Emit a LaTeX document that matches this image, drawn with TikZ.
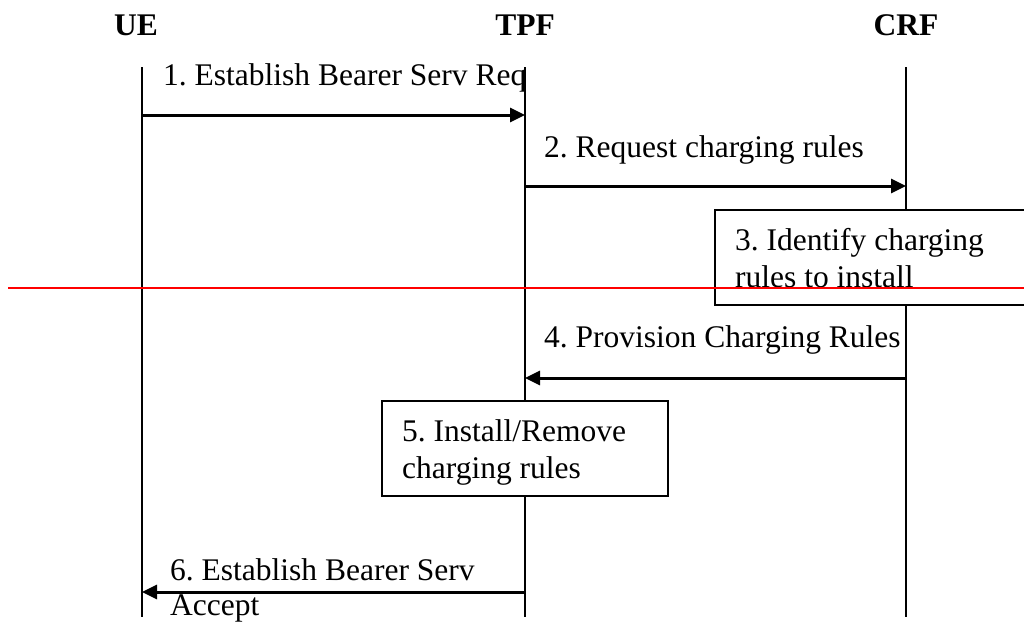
\documentclass[tikz,border=0pt]{standalone}
\usepackage{fontspec}
\setmainfont{Liberation Serif}
\frenchspacing
\usetikzlibrary{arrows.meta}
\begin{document}
\begin{tikzpicture}[x=1pt,y=-1pt,
  lbl/.style={anchor=base west,inner sep=0pt,font=\fontsize{31.5}{36}\selectfont},
  hdr/.style={anchor=base,inner sep=0pt,font=\fontsize{31.5}{36}\selectfont\bfseries},
  life/.style={line width=1.4pt},
  msg/.style={line width=3pt,-{Triangle[length=15pt,width=14pt]}},
  actbox/.style={draw,fill=white,line width=1.4pt}]
\clip (0,0) rectangle (1024,627);
\fill[white] (0,0) rectangle (1024,627);
% headers
\node[hdr] (hue) at (136,35) {UE};
\node[hdr] (htpf) at (525,35) {TPF};
\node[hdr] (hcrf) at (906,35) {CRF};
% lifelines
\coordinate (ueT) at (142,67);  \coordinate (ueB) at (142,617);
\coordinate (tpT) at (525,67);  \coordinate (tpB) at (525,617);
\coordinate (crT) at (906,67);  \coordinate (crB) at (906,617);
\draw[life] (ueT) -- (ueB);
\draw[life] (tpT) -- (tpB);
\draw[life] (crT) -- (crB);
% message points
\coordinate (ue1) at (142,115); \coordinate (tp1) at (525,115);
\coordinate (tp2) at (525,186); \coordinate (cr2) at (906,186);
\coordinate (cr4) at (906,378); \coordinate (tp4) at (525,378);
\coordinate (tp6) at (525,592); \coordinate (ue6) at (142,592);
\draw[msg] (ue1) -- (tp1);
\draw[msg] (tp2) -- (cr2);
\draw[msg] (cr4) -- (tp4);
\draw[msg] (tp6) -- (ue6);
% labels
\node[lbl] (l1) at (163,85) {1. Establish Bearer Serv Req};
\node[lbl] (l2) at (544,157) {2. Request charging rules};
\node[lbl] (l4) at (544,347) {4. Provision Charging Rules};
\node[lbl] (l6a) at (170,580) {6. Establish Bearer Serv};
\node[lbl] (l6b) at (170,615) {Accept};
% boxes
\path[actbox] (715,210) rectangle (1040,305);
\node[lbl] (b3a) at (735,250) {3. Identify charging};
\node[lbl] (b3b) at (735,287) {rules to install};
\path[actbox] (382,401) rectangle (668,496);
\node[lbl] (b5a) at (402,441) {5. Install/Remove};
\node[lbl] (b5b) at (402,478) {charging rules};
% red line
\coordinate (rA) at (8,288); \coordinate (rB) at (1024,288);
\draw[red,line width=1.5pt] (rA) -- (rB);
\end{tikzpicture}
\end{document}
